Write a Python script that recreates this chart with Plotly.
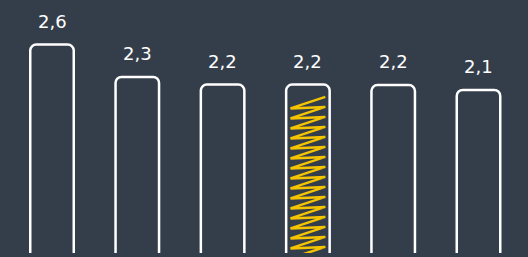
import plotly.graph_objects as go
import numpy as np

categories = [0, 1, 2, 3, 4, 5]
values = [2.56, 2.26, 2.19, 2.19, 2.185, 2.14]
highlight = 3

BG = "#343e4b"
YELLOW = "#f5c400"

W, H = 528, 257
mt, mb = 0, 4
y_low, px_per_unit = 0.63, 108.0
y_high = y_low + (H - mt - mb) / px_per_unit
x_unit = 85.3
x_low = -52 / x_unit
x_high = x_low + W / x_unit
bar_w = 0.51

fig = go.Figure()
fig.add_trace(go.Bar(
    x=categories, y=values, width=bar_w,
    marker=dict(color="rgba(0,0,0,0)", line=dict(color="white", width=2.5),
                cornerradius=6),
    hoverinfo="skip",
))

# zigzag scribble fill for highlighted bar, derived from its value & position
v = values[highlight]
cx = categories[highlight]
half = bar_w / 2 * 0.8
step = 10 / px_per_unit
rise = 11.5 / px_per_unit
top = v - 5 / px_per_unit
ys = np.arange(y_low - 0.05, top - rise, step)
zx, zy = [], []
for y in ys:
    zx += [cx - half, cx + half]
    zy += [y, y + rise]
fig.add_trace(go.Scatter(x=zx, y=zy, mode="lines",
                         line=dict(color=YELLOW, width=2.5),
                         hoverinfo="skip"))

for c, val in zip(categories, values):
    fig.add_annotation(x=c, y=val, text=f"{val:.1f}".replace(".", ","),
                       showarrow=False, yanchor="bottom", yshift=11,
                       font=dict(color="white", size=18, family="DejaVu Sans"))

fig.update_layout(
    width=W, height=H, margin=dict(l=0, r=0, t=mt, b=mb),
    paper_bgcolor=BG, plot_bgcolor=BG, showlegend=False,
    xaxis=dict(range=[x_low, x_high], visible=False),
    yaxis=dict(range=[y_low, y_high], visible=False),
)
fig.write_html("out.html", config={"displayModeBar": False},
               post_script="document.body.style.margin='0';document.body.style.overflow='hidden';")
